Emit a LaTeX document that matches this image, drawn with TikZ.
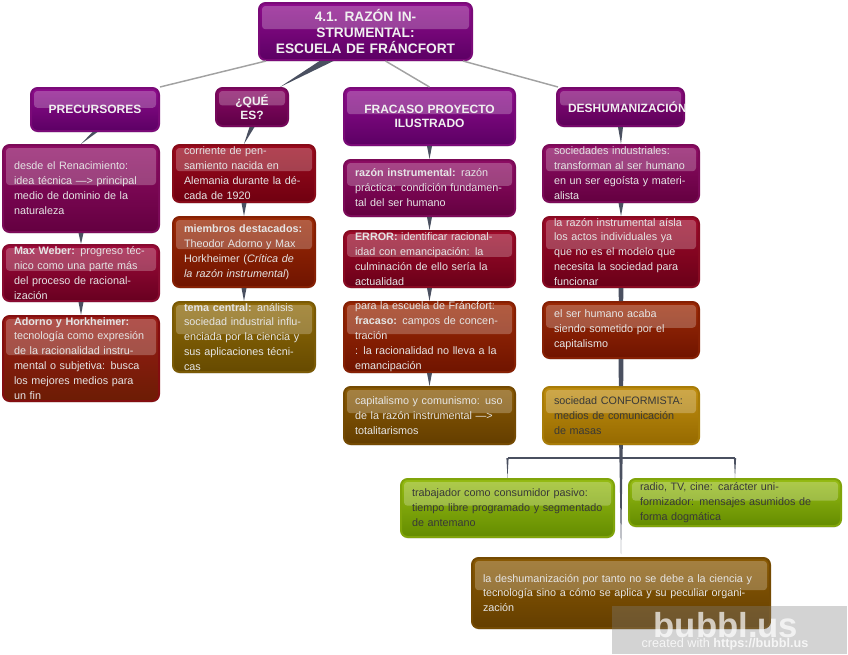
\documentclass[tikz,border=0pt]{standalone}
\usepackage{fontspec}
\setmainfont{Liberation Sans}
\usetikzlibrary{calc, shadows}

\definecolor{wirecol}{HTML}{4A5060}
\definecolor{thincol}{HTML}{A2A2A2}
\newcommand{\maketone}[4]{%
  \definecolor{#1top}{HTML}{#2}\definecolor{#1bot}{HTML}{#3}\definecolor{#1line}{HTML}{#4}%
  \tikzset{#1/.style={top color=#1top, bottom color=#1bot, draw=#1line}}}
\maketone{plum}{8E0C8C}{5C0064}{7A0A78}
\maketone{violet}{8A0A7C}{5C0058}{75086A}
\maketone{berry}{8A0A66}{5E0046}{75085A}
\maketone{magenta}{8E0C64}{640040}{7C0A58}
\maketone{crimson}{9E0A3A}{680020}{880A30}
\maketone{cherry}{9E0A2A}{6A0018}{880A22}
\maketone{scarlet}{9C0A1E}{700010}{880A18}
\maketone{rust}{9A1C16}{6C1C04}{840E10}
\maketone{brick}{9C2A06}{701400}{862004}
\maketone{olive}{8F6A08}{664A00}{7A5A06}
\maketone{umber}{8A5A04}{643E00}{744A02}
\maketone{amber}{C08E10}{966A00}{A87C08}
\maketone{lime}{96BC14}{648C00}{80A40A}

\begin{document}
\begin{tikzpicture}[
  x=0.75pt, y=-0.75pt,
  mapbox/.style={rectangle, rounded corners=5pt, line width=1.5pt, inner sep=0pt,
    align=left, font=\fontsize{8.1pt}{11.2pt}\selectfont,
    drop shadow={opacity=0.18, shadow xshift=0pt, shadow yshift=-1.2pt},
    path picture={
      \fill[white, opacity=0.24, rounded corners=2.5pt]
        ($(path picture bounding box.north west)+(3,3)$) rectangle
        ($(path picture bounding box.north east)!0.46!(path picture bounding box.south east)+(-3,0)$);
    }},
  boxsize/.style 2 args={minimum width=#1*0.75pt, minimum height=#2*0.75pt,
    text width=#1*0.75pt-16.5pt},
  head/.style={font=\fontsize{9pt}{10.5pt}\selectfont\bfseries, align=center, text=white!94!black},
  light/.style={text=white!90!black},
  dark/.style={text=black!78},
  taper/.style={fill=wirecol},
  thinlink/.style={draw=thincol, line width=1.1pt},
]
  \useasboundingbox (0,0) rectangle (848,654);

  % heads
  \node[mapbox, head, plum, boxsize={213}{57}, font=\fontsize{10.3pt}{12.2pt}\selectfont\bfseries] (root) at (365.5,31.5) {4.1. RAZÓN INSTRUMENTAL:\\ESCUELA DE FRÁNCFORT};
  \node[mapbox, head, plum, boxsize={128}{43}] (prec) at (95,109.5) {PRECURSORES};
  \node[mapbox, head, berry, boxsize={72}{38}] (que) at (252,107) {¿QUÉ ES?};
  \node[mapbox, head, plum, boxsize={171}{57}] (fracaso) at (429.5,116.5) {FRACASO PROYECTO\\ILUSTRADO};
  \node[mapbox, head, violet, boxsize={127}{38}] (deshum) at (620.5,107) {DESHUMANIZACIÓN};

  % column 1
  \node[mapbox, light, magenta, boxsize={156}{87}] (prec1) at (81,188.5) {desde el Renacimiento: idea técnica ---> principal medio de dominio de la naturaleza};
  \node[mapbox, light, crimson, boxsize={156}{56}] (prec2) at (81,273) {\textbf{Max Weber:} progreso técnico como una parte más del proceso de racionalización};
  \node[mapbox, light, rust, boxsize={156}{85}] (prec3) at (81,358.5) {\textbf{Adorno y Horkheimer:} tecnología como expresión de la racionalidad instrumental o subjetiva: busca los mejores medios para un fin};

  % column 2
  \node[mapbox, light, scarlet, boxsize={142}{57}] (que1) at (244,173.5) {corriente de pensamiento nacida en Alemania durante la década de 1920};
  \node[mapbox, light, brick, boxsize={142}{70}] (que2) at (244,252) {\textbf{miembros destacados:} Theodor Adorno y Max Horkheimer (\textit{Crítica de la razón instrumental})};
  \node[mapbox, light, olive, boxsize={142}{70}] (que3) at (244,337) {\textbf{tema central:} análisis sociedad industrial influenciada por la ciencia y sus aplicaciones técnicas};

  % column 3
  \node[mapbox, light, magenta, boxsize={171}{56}] (fra1) at (429.5,188) {\textbf{razón instrumental:} razón práctica: condición fundamental del ser humano};
  \node[mapbox, light, cherry, boxsize={171}{56}] (fra2) at (429.5,259) {\textbf{ERROR:} identificar racionalidad con emancipación: la culminación de ello sería la actualidad};
  \node[mapbox, light, brick, boxsize={171}{70}] (fra3) at (429.5,337) {para la escuela de Fráncfort:\\\textbf{fracaso:} campos de concentración\\: la racionalidad no lleva a la emancipación};
  \node[mapbox, light, umber, boxsize={171}{57}] (fra4) at (429.5,415.5) {capitalismo y comunismo: uso de la razón instrumental ---> totalitarismos};

  % column 4
  \node[mapbox, light, magenta, boxsize={156}{57}] (des1) at (621,173.5) {sociedades industriales: transforman al ser humano en un ser egoísta y materialista};
  \node[mapbox, light, cherry, boxsize={156}{70}] (des2) at (621,252) {la razón instrumental aísla los actos individuales ya que no es el modelo que necesita la sociedad para funcionar};
  \node[mapbox, light, brick, boxsize={156}{56}] (des3) at (621,330) {el ser humano acaba siendo sometido por el capitalismo};
  \node[mapbox, dark, amber, boxsize={156}{57}] (des4) at (621,415.5) {sociedad CONFORMISTA: medios de comunicación de masas};

  % leaves
  \node[mapbox, dark, lime, boxsize={213}{58}] (pasivo) at (507.5,508) {trabajador como consumidor pasivo: tiempo libre programado y segmentado de antemano};
  \node[mapbox, dark, lime, boxsize={212}{47}] (radio) at (735,502.5) {radio, TV, cine: carácter uniformizador: mensajes asumidos de forma dogmática};
  \node[mapbox, light, umber, boxsize={298}{70}] (fin) at (621,593) {la deshumanización por tanto no se debe a la ciencia y tecnología sino a cómo se aplica y su peculiar organización};

  % thin links from the root
  \draw[thinlink] ($(root.south west)+(8,0)$) -- (prec.north east);
  \draw[thinlink] ($(root.south)+(20,0)$) -- (fracaso.north);
  \draw[thinlink] ($(root.south east)+(-10,0)$) -- ($(deshum.north west)+(2,0)$);
  \fill[taper] ($(root.south)+(-46,0)$) -- ($(root.south)+(-32,0)$) -- ($(que.north)+(28,0)$) -- cycle;

  % tapered links down the columns
  \foreach \a/\b in {prec/prec1, prec1/prec2, prec2/prec3, que/que1, que1/que2, que2/que3,
    fracaso/fra1, fra1/fra2, fra2/fra3, fra3/fra4, deshum/des1, des1/des2}
    \fill[taper] ($(\a.south)+(-2.5,0)$) -- ($(\a.south)+(2.5,0)$) -- (\b.north) -- cycle;
  \foreach \a/\b in {des2/des3, des3/des4}
    \fill[taper] ($(\a.south)+(-2.4,0)$) -- ($(\a.south)+(2.4,0)$) -- ($(\b.north)+(2.2,0)$) -- ($(\b.north)+(-2.2,0)$) -- cycle;

  % branch under the last box
  \coordinate (fork) at (621,458);
  \coordinate (forkl) at (pasivo.north |- fork);
  \coordinate (forkr) at (radio.north |- fork);
  \draw[wirecol, line width=1.1pt] (forkl) -- (forkr);
  \fill[taper] ($(des4.south)+(-1.8,0)$) -- ($(des4.south)+(1.8,0)$) -- ($(fin.north)+(0,-3)$) -- cycle;
  \fill[taper] ($(forkl)+(-1.1,0)$) -- ($(forkl)+(1.1,0)$) -- (pasivo.north) -- cycle;
  \fill[taper] ($(forkr)+(-1.1,0)$) -- ($(forkr)+(1.1,0)$) -- (radio.north) -- cycle;

  % watermark
  \fill[black!50, opacity=0.35] (612,606) rectangle (847,654);
  \node[font=\fontsize{26pt}{26pt}\selectfont\bfseries, text=white, opacity=0.7, inner sep=0pt] (brand) at (726,625) {bubbl.us};
  \node[font=\fontsize{9.5pt}{10pt}\selectfont, text=white, opacity=0.8, inner sep=0pt] (made) at (725,644) {created with \textbf{https://bubbl.us}};
\end{tikzpicture}
\end{document}
